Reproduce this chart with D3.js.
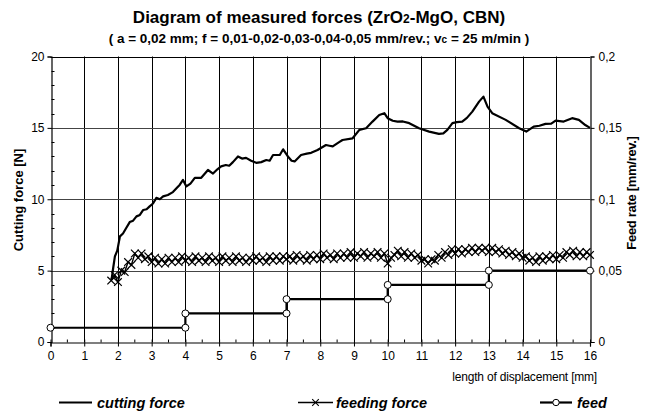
<!DOCTYPE html>
<html>
<head>
<meta charset="utf-8">
<script src="https://cdn.jsdelivr.net/npm/d3@7/dist/d3.min.js"></script>
<style>
  body { margin: 0; background: #fff; }
  svg { font-family: "Liberation Sans", Arial, sans-serif; }
</style>
</head>
<body>
<svg id="chart" width="649" height="413"></svg>
<script>
// cutting force [N] vs displacement [mm]
const cutX = [1.81, 1.86, 1.91, 1.98, 2.06, 2.15, 2.25, 2.35, 2.45, 2.55, 2.65, 2.75, 2.85, 2.94, 3.04, 3.14, 3.24, 3.34, 3.48, 3.63,
  3.75, 3.83, 3.93, 4.03, 4.15, 4.28, 4.47, 4.58, 4.67, 4.82, 4.95, 5.06, 5.2, 5.3, 5.41, 5.56, 5.68, 5.8, 5.95, 6.1,
  6.25, 6.4, 6.5, 6.6, 6.8, 6.9, 7.04, 7.15, 7.24, 7.43, 7.6, 7.73, 7.92, 8.17, 8.27, 8.37, 8.56, 8.66, 8.96, 9.16,
  9.36, 9.55, 9.75, 9.9, 10.0, 10.15, 10.29, 10.45, 10.64, 10.93, 11.23, 11.52, 11.65, 11.77, 11.92, 12.05, 12.21, 12.35, 12.51, 12.71,
  12.84, 12.96, 13.1, 13.5, 13.9, 14.11, 14.33, 14.5, 14.68, 14.85, 14.98, 15.22, 15.47, 15.67, 15.86, 16.0];
const cutF = [4.35, 5.2, 6.0, 6.4, 7.4, 7.6, 8.0, 8.4, 8.5, 8.8, 8.9, 9.25, 9.3, 9.5, 9.7, 10.1, 10.0, 10.2, 10.3, 10.5,
  10.8, 11.0, 11.35, 10.9, 11.1, 11.5, 11.5, 11.8, 12.05, 11.8, 12.1, 12.3, 12.4, 12.35, 12.6, 13.0, 12.85, 12.9, 12.7, 12.55,
  12.6, 12.75, 12.7, 13.1, 13.1, 13.5, 13.0, 12.7, 12.65, 13.1, 13.2, 13.25, 13.45, 13.8, 13.75, 13.7, 14.0, 14.15, 14.27, 14.86,
  14.97, 15.44, 15.9, 16.03, 15.68, 15.5, 15.44, 15.45, 15.33, 14.97, 14.74, 14.58, 14.62, 14.86, 15.33, 15.4, 15.44, 15.7, 16.14, 16.84,
  17.19, 16.49, 16.03, 15.56, 14.97, 14.74, 15.09, 15.15, 15.28, 15.3, 15.51, 15.44, 15.68, 15.56, 15.2, 15.0];

// feeding force [N], sampled every 0.1 mm from 1.8 mm
const feedForceStart = 1.8;
const feedForceStep = 0.1;
const feedForce = [
  4.3, 4.7, 4.2, 5.0, 4.9, 5.6, 5.4, 6.2, 5.9, 6.2, 5.8, 6.0, 5.6, 5.9, 5.5, 5.8, 5.5, 5.9, 5.6, 5.9,
  5.6, 6.0, 5.7, 5.9, 5.6, 6.0, 5.7, 5.9, 5.6, 6.0, 5.7, 5.9, 5.6, 6.0, 5.7, 5.9, 5.6, 6.0, 5.7, 5.9,
  5.6, 5.9, 5.7, 6.0, 5.7, 5.9, 5.6, 6.0, 5.7, 6.0, 5.7, 6.0, 5.8, 6.0, 5.7, 6.1, 5.8, 6.0, 5.7, 6.1,
  5.8, 6.1, 5.8, 6.2, 5.9, 6.1, 5.8, 6.2, 5.9, 6.2, 5.9, 6.3, 5.9, 6.2, 6.0, 6.3, 5.9, 6.2, 6.0, 6.3,
  5.9, 6.2, 5.5, 5.9, 6.1, 6.4, 6.0, 6.3, 5.9, 6.2, 5.9, 6.1, 5.7, 5.8, 5.5, 5.8, 5.7, 6.1, 5.9, 6.3,
  6.1, 6.5, 6.2, 6.5, 6.2, 6.5, 6.3, 6.6, 6.3, 6.6, 6.4, 6.6, 6.3, 6.6, 6.3, 6.5, 6.2, 6.4, 6.1, 6.3,
  6.0, 6.2, 5.9, 6.0, 5.7, 5.9, 5.6, 6.0, 5.7, 6.0, 5.8, 6.1, 5.8, 6.1, 5.9, 6.3, 6.1, 6.4, 6.0, 6.3,
  6.0, 6.3, 6.1];

// feed [mm/rev] steps
const feedX = [0, 4, 4, 7, 7, 10, 10, 13, 13, 16];
const feedY = [0.01, 0.01, 0.02, 0.02, 0.03, 0.03, 0.04, 0.04, 0.05, 0.05];

const leftTicks = [0, 5, 10, 15, 20];
const rightTicks = [0, 0.05, 0.1, 0.15, 0.2];
const rightLabels = ['0', '0,05', '0,1', '0,15', '0,2'];
const xTicks = d3.range(0, 17);

const svg = d3.select('#chart');
const margin = {left: 50.5, right: 59, top: 56.5, bottom: 71};
const W = 649, H = 413;

const x = d3.scaleLinear().domain([0, 16]).range([margin.left, W - margin.right]);
const y = d3.scaleLinear().domain([0, 20]).range([H - margin.bottom, margin.top]);
const y2 = d3.scaleLinear().domain([0, 0.2]).range([H - margin.bottom, margin.top]);

// grid
const grid = svg.append('g').attr('stroke', '#000').attr('stroke-width', 1);
grid.selectAll('.vg').data(xTicks.slice(1, -1)).enter().append('line')
  .attr('x1', d => Math.round(x(d)) + 0.5).attr('x2', d => Math.round(x(d)) + 0.5)
  .attr('y1', y(20)).attr('y2', y(0));
grid.selectAll('.hg').data([5, 10, 15, 20]).enter().append('line')
  .attr('x1', x(0)).attr('x2', x(16))
  .attr('y1', d => Math.round(y(d)) + 0.5).attr('y2', d => Math.round(y(d)) + 0.5)
  .attr('stroke', d => d === 20 ? '#000' : '#444');

// axes
const leftAxis = d3.axisLeft(y).tickValues(leftTicks).tickSize(4).tickPadding(3);
const gl = svg.append('g').attr('transform', `translate(${Math.round(x(0)) + 0.5},0)`).call(leftAxis);
const xAxis = d3.axisBottom(x).tickValues(xTicks).tickSize(4).tickPadding(5);
const gx = svg.append('g').attr('transform', `translate(0,${Math.round(y(0)) + 0.5})`).call(xAxis);
const rightAxis = d3.axisRight(y2).tickValues(rightTicks).tickSize(4).tickPadding(4).tickFormat((d, i) => rightLabels[i]);
const gr = svg.append('g').attr('transform', `translate(${Math.round(x(16)) + 0.5},0)`).call(rightAxis);

[gl, gx, gr].forEach(g => {
  g.select('.domain').attr('stroke', '#000').attr('stroke-width', 1.2);
  g.selectAll('.tick line').attr('stroke', '#000');
  g.selectAll('.tick text').attr('fill', '#000').attr('font-size', 12).attr('font-family', '"Liberation Sans", Arial, sans-serif');
});
gx.selectAll('.tick line').attr('y1', -3);

// minor ticks
svg.append('g').selectAll('line').data(d3.range(1, 20).filter(d => d % 5 !== 0)).enter().append('line')
  .attr('x1', Math.round(x(0)) + 0.5).attr('x2', Math.round(x(0)) + 3.5)
  .attr('y1', d => Math.round(y(d)) + 0.5).attr('y2', d => Math.round(y(d)) + 0.5)
  .attr('stroke', '#000');
svg.append('g').selectAll('line').data(d3.range(0.5, 16, 1)).enter().append('line')
  .attr('x1', d => x(d)).attr('x2', d => x(d))
  .attr('y1', Math.round(y(0)) + 0.5).attr('y2', Math.round(y(0)) - 2.5)
  .attr('stroke', '#000');

// feed (steps)
const feedPts = feedX.map((d, i) => [d, feedY[i]]);
svg.append('path').datum(feedPts)
  .attr('fill', 'none').attr('stroke', '#000').attr('stroke-width', 2.2)
  .attr('d', d3.line().x(d => x(d[0])).y(d => y2(d[1])));

// feeding force
const ffPts = feedForce.map((d, i) => [feedForceStart + i * feedForceStep, d]);
svg.append('path').datum(ffPts)
  .attr('fill', 'none').attr('stroke', '#000').attr('stroke-width', 1.4)
  .attr('d', d3.line().x(d => x(d[0])).y(d => y(d[1])));
const crossSym = d3.symbol().type(d3.symbolX).size(40);
svg.append('g').selectAll('path').data(ffPts).enter().append('path')
  .attr('transform', d => `translate(${x(d[0])},${y(d[1])})`)
  .attr('d', crossSym).attr('fill', 'none').attr('stroke', '#000').attr('stroke-width', 1.2);

// cutting force
const cutPts = cutX.map((d, i) => [d, cutF[i]]);
svg.append('path').datum(cutPts)
  .attr('fill', 'none').attr('stroke', '#000').attr('stroke-width', 2.2).attr('stroke-linejoin', 'round')
  .attr('d', d3.line().x(d => x(d[0])).y(d => y(d[1])));

// feed markers on top
svg.append('g').selectAll('circle').data(feedPts).enter().append('circle')
  .attr('cx', d => x(d[0])).attr('cy', d => y2(d[1])).attr('r', 3.5)
  .attr('fill', '#fff').attr('stroke', '#000').attr('stroke-width', 1);

// titles
const title = svg.append('text').attr('x', 319).attr('y', 23).attr('text-anchor', 'middle')
  .attr('font-size', 17).attr('font-weight', 'bold');
title.append('tspan').text('Diagram of measured forces (ZrO');
title.append('tspan').attr('font-size', 12).text('2');
title.append('tspan').text('-MgO, CBN)');

const sub = svg.append('text').attr('x', 319).attr('y', 43).attr('text-anchor', 'middle')
  .attr('font-size', 13.5).attr('font-weight', 'bold');
sub.append('tspan').text('( a = 0,02 mm; f = 0,01-0,02-0,03-0,04-0,05 mm/rev.; v');
sub.append('tspan').attr('font-size', 10).text('c');
sub.append('tspan').text(' = 25 m/min )');

svg.append('text').attr('transform', 'translate(23,200) rotate(-90)').attr('text-anchor', 'middle')
  .attr('font-size', 13).attr('font-weight', 'bold').text('Cutting force [N]');
svg.append('text').attr('transform', 'translate(636,193) rotate(-90)').attr('text-anchor', 'middle')
  .attr('font-size', 13).attr('font-weight', 'bold').attr('letter-spacing', -0.3).text('Feed rate [mm/rev.]');

svg.append('text').attr('x', 597).attr('y', 381).attr('text-anchor', 'end')
  .attr('font-size', 12).attr('letter-spacing', -0.2).text('length of displacement [mm]');

// legend
const legY = 402.5;
const legend = [
  {x1: 59, x2: 92, tx: 97, label: 'cutting force', mark: null},
  {x1: 298, x2: 333, tx: 336, label: 'feeding force', mark: 'x'},
  {x1: 540, x2: 572, tx: 577, label: 'feed', mark: 'o'}
];
const lg = svg.append('g').selectAll('g').data(legend).enter().append('g');
lg.append('line').attr('x1', d => d.x1).attr('x2', d => d.x2).attr('y1', legY).attr('y2', legY)
  .attr('stroke', '#000').attr('stroke-width', d => d.mark === 'x' ? 1.4 : 2.2);
lg.filter(d => d.mark === 'x').append('path')
  .attr('transform', d => `translate(${(d.x1 + d.x2) / 2},${legY})`)
  .attr('d', d3.symbol().type(d3.symbolX).size(30)).attr('fill', 'none').attr('stroke', '#000').attr('stroke-width', 1.1);
lg.filter(d => d.mark === 'o').append('circle')
  .attr('cx', d => (d.x1 + d.x2) / 2).attr('cy', legY).attr('r', 3.2)
  .attr('fill', '#fff').attr('stroke', '#000');
lg.append('text').attr('x', d => d.tx).attr('y', legY + 5)
  .attr('font-size', 14.5).attr('font-weight', 'bold').attr('font-style', 'italic').text(d => d.label);
</script>
</body>
</html>
